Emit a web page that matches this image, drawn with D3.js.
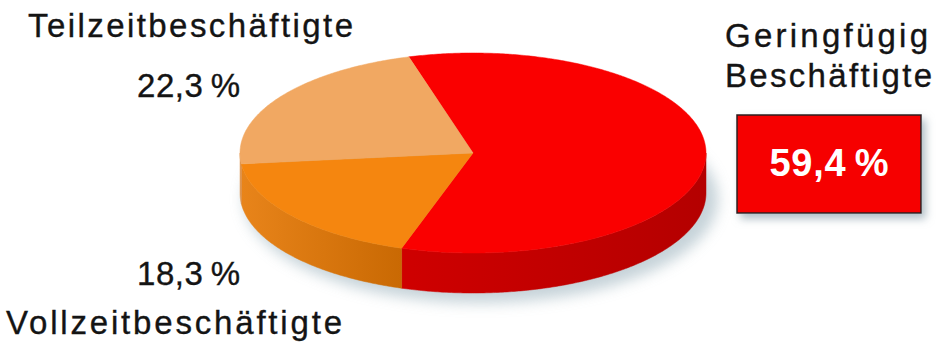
<!DOCTYPE html>
<html><head><meta charset="utf-8">
<script src="https://cdn.jsdelivr.net/npm/d3@7"></script>
<style>body{margin:0;background:#fff}svg{display:block}</style>
</head><body>
<svg id="c" width="948" height="355"></svg>
<script>
// ---- data ----
const categories = ["Geringfügig Beschäftigte", "Vollzeitbeschäftigte", "Teilzeitbeschäftigte"];
const values = [59.4, 18.3, 22.3];
const valueLabels = ["59,4\u2009%", "18,3\u2009%", "22,3\u2009%"];
const topColors = ["#fa0000", "#f5860f", "#f1a862"];
const sideColorsA = ["#cf0000", "#e8841a", "#e29a55"];
const sideColorsB = ["#b40000", "#c96903", "#d88c48"];

// ---- geometry ----
const cx = 473, cy = 153, rx = 233, ry = 100, depth = 40;
const svg = d3.select("#c");
const defs = svg.append("defs");
const xS = d3.scaleLinear().domain([-1, 1]).range([cx - rx, cx + rx]);
const yS = d3.scaleLinear().domain([-1, 1]).range([cy - ry, cy + ry]);
const px = a => xS(Math.sin(a));
const py = a => yS(-Math.cos(a));

const start = -16 * Math.PI / 180;
const pie = d3.pie().sort(null).value(d => d).startAngle(start).endAngle(start + 2 * Math.PI);
const arcs = pie(values);

function samples(s, e) {
  const n = Math.max(2, Math.ceil((e - s) / 0.01));
  return d3.range(n + 1).map(i => s + (e - s) * i / n);
}

// filters
const blur = defs.append("filter").attr("id", "blur").attr("x", "-20%").attr("y", "-50%").attr("width", "140%").attr("height", "200%");
blur.append("feGaussianBlur").attr("stdDeviation", 7);
const ds = defs.append("filter").attr("id", "ds").attr("x", "-20%").attr("y", "-20%").attr("width", "150%").attr("height", "160%");
ds.append("feDropShadow").attr("dx", 4).attr("dy", 5).attr("stdDeviation", 4).attr("flood-color", "#8fa3ad").attr("flood-opacity", 0.7);

// shadow under the pie
svg.append("ellipse")
  .attr("cx", cx + 8).attr("cy", cy + depth + 6)
  .attr("rx", rx + 4).attr("ry", ry + 4)
  .attr("fill", "#b3c4cc").attr("opacity", 0.75)
  .attr("filter", "url(#blur)");

// side walls
arcs.forEach((d, i) => {
  const g = defs.append("linearGradient").attr("id", "side" + i).attr("x1", 0).attr("x2", 1).attr("y1", 0).attr("y2", 0);
  g.append("stop").attr("offset", 0).attr("stop-color", sideColorsA[i]);
  g.append("stop").attr("offset", 1).attr("stop-color", sideColorsB[i]);
});
arcs.forEach((d, i) => {
  const s = Math.max(d.startAngle, Math.PI / 2);
  const e = Math.min(d.endAngle, 3 * Math.PI / 2);
  if (e <= s) return;
  const pts = samples(s, e);
  const p = d3.path();
  pts.forEach((a, k) => k ? p.lineTo(px(a), py(a)) : p.moveTo(px(a), py(a)));
  pts.slice().reverse().forEach(a => p.lineTo(px(a), py(a) + depth));
  p.closePath();
  svg.append("path").attr("d", p.toString()).attr("fill", `url(#side${i})`)
    .attr("stroke", `url(#side${i})`).attr("stroke-width", 0.5);
});

// top faces
arcs.forEach((d, i) => {
  const p = d3.path();
  p.moveTo(cx, cy);
  samples(d.startAngle, d.endAngle).forEach(a => p.lineTo(px(a), py(a)));
  p.closePath();
  svg.append("path").attr("d", p.toString()).attr("fill", topColors[i])
    .attr("stroke", topColors[i]).attr("stroke-width", 0.5).attr("stroke-linejoin", "round");
});

// ---- labels ----
const font = "'Liberation Sans', Arial, Helvetica, sans-serif";
function txt(x, y, s, opts) {
  const fill = opts.fill || "#141414";
  const t = svg.append("text").attr("x", x).attr("y", y).text(s)
    .attr("font-family", font).attr("font-size", opts.size || 33)
    .attr("fill", fill)
    .attr("stroke", fill).attr("stroke-width", opts.sw != null ? opts.sw : 0.35)
    .attr("text-anchor", opts.anchor || "start");
  if (opts.weight) t.attr("font-weight", opts.weight);
  if (opts.len) t.attr("textLength", opts.len).attr("lengthAdjust", "spacing");
  return t;
}
// Teilzeit
txt(28, 37, categories[2], {len: 325});
txt(137, 97, valueLabels[2], {len: 103});
// Vollzeit
txt(137, 285, valueLabels[1], {len: 103});
txt(6, 334, categories[1], {len: 336});
// Geringfügig
const gLines = categories[0].split(" ");
txt(725, 47, gLines[0], {len: 203});
txt(725, 87, gLines[1], {len: 207});
// box
svg.append("rect").attr("x", 737).attr("y", 115).attr("width", 184).attr("height", 98)
  .attr("fill", "#f60000").attr("stroke", "#2b1a1a").attr("stroke-width", 1.5)
  .attr("filter", "url(#ds)");
txt(829, 176, valueLabels[0], {size: 38, weight: "bold", fill: "#ffffff", anchor: "middle", len: 119, sw: 0});
</script>
</body></html>
